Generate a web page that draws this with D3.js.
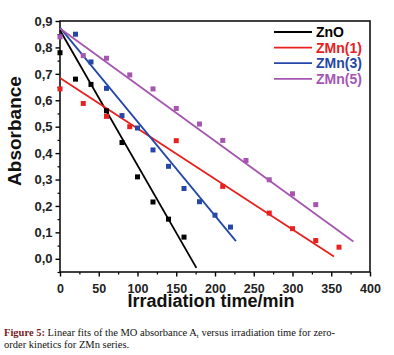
<!DOCTYPE html>
<html>
<head>
<meta charset="utf-8">
<script src="https://cdn.jsdelivr.net/npm/d3@7"></script>
<style>
  body { margin: 0; background: #fff; }
  svg { display: block; }
</style>
</head>
<body>
<div id="chart"></div>
<script>
// series names and colours
var seriesNames = ["ZnO", "ZMn(1)", "ZMn(3)", "ZMn(5)"];
var seriesColors = ["#000000", "#e8201e", "#2447a8", "#a656b0"];

// measured points (time in min, absorbance)
var znoTime = [0, 20, 40, 60, 80, 100, 120, 140, 160];
var znoAbs  = [0.78, 0.68, 0.66, 0.56, 0.44, 0.31, 0.215, 0.15, 0.082];

var zmn1Time = [0, 30, 60, 90, 150, 210, 270, 300, 330, 360];
var zmn1Abs  = [0.643, 0.588, 0.539, 0.50, 0.447, 0.274, 0.173, 0.114, 0.069, 0.044];

var zmn3Time = [20, 40, 60, 80, 100, 120, 140, 160, 180, 200, 220];
var zmn3Abs  = [0.85, 0.745, 0.645, 0.542, 0.495, 0.412, 0.35, 0.266, 0.216, 0.165, 0.12];

var zmn5Time = [0, 30, 60, 90, 120, 150, 180, 210, 240, 270, 300, 330];
var zmn5Abs  = [0.84, 0.769, 0.759, 0.696, 0.643, 0.569, 0.51, 0.448, 0.372, 0.299, 0.246, 0.205];

// linear fits: A = intercept - slope * t, drawn from 0 to fitEnd
var fitIntercept = [0.865, 0.684, 0.875, 0.872];
var fitSlope     = [0.00511, 0.00191, 0.00356, 0.00213];
var fitEnd       = [176, 353.5, 227, 378.5];

var xTicks = [0, 50, 100, 150, 200, 250, 300, 350, 400];
var yTicks = [0.0, 0.1, 0.2, 0.3, 0.4, 0.5, 0.6, 0.7, 0.8, 0.9];

var times = [znoTime, zmn1Time, zmn3Time, zmn5Time];
var abss = [znoAbs, zmn1Abs, zmn3Abs, zmn5Abs];

var width = 394, height = 355;

var svg = d3.select("#chart")
    .append("svg")
    .attr("width", width)
    .attr("height", height);

var x = d3.scaleLinear().domain([0, 400]).range([60, 370]);
var y = d3.scaleLinear().domain([-0.05, 0.9]).range([272, 21]);

var fmt = function(d){ return d3.format(".1f")(d).replace(".", ","); };

// minor ticks
var xMinor = d3.range(25, 400, 50);
var yMinor = d3.range(-0.05, 0.9, 0.1).map(function(d){ return +d.toFixed(2); });

svg.append("g")
    .attr("transform", "translate(0,272)")
    .call(d3.axisBottom(x).tickValues(xMinor).tickSize(2.5).tickFormat(""))
    .call(function(g){ g.select(".domain").remove(); })
    .selectAll("line").attr("stroke-width", 1.2);

svg.append("g")
    .attr("transform", "translate(60,0)")
    .call(d3.axisLeft(y).tickValues(yMinor).tickSize(2.5).tickFormat(""))
    .call(function(g){ g.select(".domain").remove(); })
    .selectAll("line").attr("stroke-width", 1.2);

// major ticks + labels
var xAxis = svg.append("g")
    .attr("transform", "translate(0,272)")
    .call(d3.axisBottom(x).tickValues(xTicks).tickSize(4.5).tickPadding(8).tickSizeOuter(0));
xAxis.select(".domain").remove();
xAxis.selectAll("line").attr("stroke-width", 1.4);
xAxis.selectAll("text")
    .attr("font-family", "Liberation Sans, Arial, sans-serif")
    .attr("font-weight", "bold")
    .attr("font-size", "12.5px")
    .attr("fill", "#222");

var yAxis = svg.append("g")
    .attr("transform", "translate(60,0)")
    .call(d3.axisLeft(y).tickValues(yTicks).tickSize(4.5).tickPadding(3).tickFormat(fmt).tickSizeOuter(0));
yAxis.select(".domain").remove();
yAxis.selectAll("line").attr("stroke-width", 1.4);
yAxis.selectAll("text")
    .attr("font-family", "Liberation Sans, Arial, sans-serif")
    .attr("font-weight", "bold")
    .attr("font-size", "13px")
    .attr("fill", "#222");

// frame
svg.append("rect")
    .attr("x", x(0))
    .attr("y", y(0.9))
    .attr("width", x(400) - x(0))
    .attr("height", y(-0.05) - y(0.9))
    .attr("fill", "none")
    .attr("stroke", "#111")
    .attr("stroke-width", 1.6);

// fit lines
for (var i = 0; i < seriesNames.length; i++) {
    svg.append("line")
        .attr("x1", x(0))
        .attr("y1", y(fitIntercept[i]))
        .attr("x2", x(fitEnd[i]))
        .attr("y2", y(fitIntercept[i] - fitSlope[i] * fitEnd[i]))
        .attr("stroke", seriesColors[i])
        .attr("stroke-width", 1.8);
}

// points
var ms = 5;
for (var i = 0; i < seriesNames.length; i++) {
    var pts = times[i].map(function(t, j){ return [t, abss[i][j]]; });
    svg.append("g")
        .selectAll("rect")
        .data(pts)
        .enter()
        .append("rect")
        .attr("x", function(d){ return x(d[0]) - ms / 2; })
        .attr("y", function(d){ return y(d[1]) - ms / 2; })
        .attr("width", ms)
        .attr("height", ms)
        .attr("fill", seriesColors[i]);
}

// legend
var legend = svg.append("g");
seriesNames.forEach(function(name, i){
    var ly = 32 + i * 15.6;
    legend.append("line")
        .attr("x1", 274).attr("x2", 312)
        .attr("y1", ly).attr("y2", ly)
        .attr("stroke", seriesColors[i])
        .attr("stroke-width", 1.8);
    legend.append("text")
        .attr("x", 316)
        .attr("y", ly + 5)
        .text(name)
        .attr("font-family", "Liberation Sans, Arial, sans-serif")
        .attr("font-weight", "bold")
        .attr("font-size", "14px")
        .attr("fill", seriesColors[i]);
});

// axis titles
svg.append("text")
    .attr("transform", "translate(21,131) rotate(-90)")
    .attr("text-anchor", "middle")
    .text("Absorbance")
    .attr("font-family", "Liberation Sans, Arial, sans-serif")
    .attr("font-weight", "bold")
    .attr("font-size", "19px")
    .attr("fill", "#111");

svg.append("text")
    .attr("x", 211)
    .attr("y", 306.5)
    .attr("text-anchor", "middle")
    .text("Irradiation time/min")
    .attr("font-family", "Liberation Sans, Arial, sans-serif")
    .attr("font-weight", "bold")
    .attr("font-size", "18px")
    .attr("fill", "#111");

// caption
var cap = svg.append("text")
    .attr("font-family", "Liberation Serif, Times New Roman, serif")
    .attr("font-size", "10.5px")
    .attr("fill", "#111");
var l1 = cap.append("tspan").attr("x", 4).attr("y", 336);
l1.append("tspan").attr("font-weight", "bold").attr("fill", "#7a1c1c").text("Figure 5:");
l1.append("tspan").text(" Linear fits of the MO absorbance A");
l1.append("tspan").attr("font-size", "7px").attr("dy", 2).text("t");
l1.append("tspan").attr("dy", -2).text(" versus irradiation time for zero-");
cap.append("tspan").attr("x", 4).attr("y", 347.5).text("order kinetics for ZMn series.");
</script>
</body>
</html>
